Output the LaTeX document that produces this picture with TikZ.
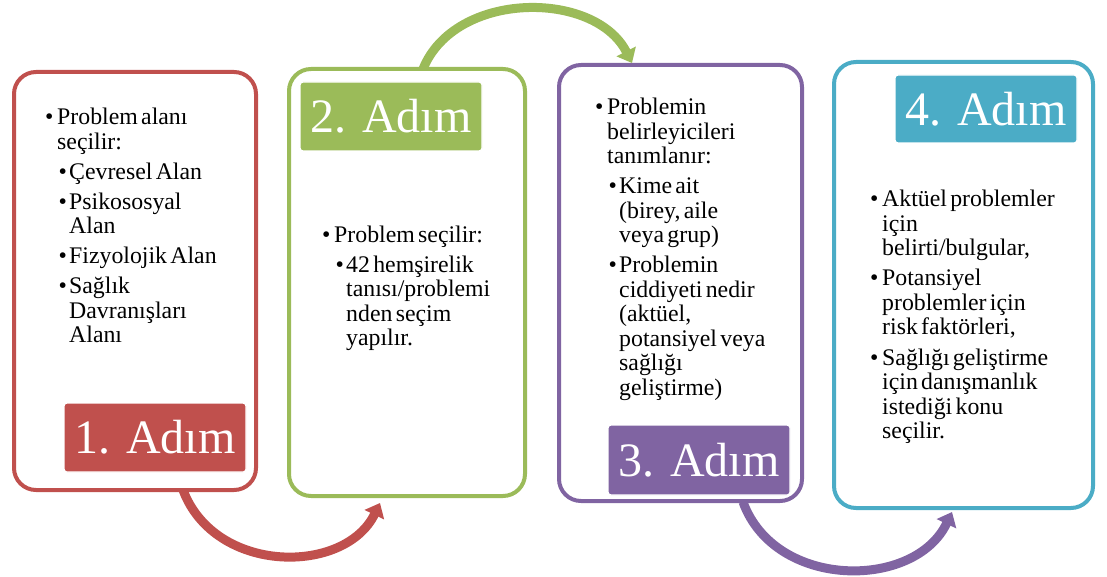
\documentclass[tikz,border=0pt]{standalone}
\usepackage{fontspec}
\setmainfont{Liberation Serif}
\usetikzlibrary{arrows.meta}
\definecolor{cred}{HTML}{C0504D}
\definecolor{cgreen}{HTML}{9BBB59}
\definecolor{cpurple}{HTML}{8064A2}
\definecolor{cblue}{HTML}{4BACC6}
\newcommand{\txtsetup}{\fontsize{23.8}{24.5}\selectfont\parskip=5.5pt\raggedright}
\newcommand{\ia}[1]{\leftskip=0pt\hangindent=12pt\hangafter=1\noindent\makebox[12pt][l]{•}#1\par}
\newcommand{\ib}[1]{\leftskip=13.5pt\hangindent=10.5pt\hangafter=1\noindent\makebox[10.5pt][l]{•}#1\par}
\tikzset{
  frame/.style={draw=#1, line width=4pt, fill=white, rounded corners=22pt, inner sep=0pt},
  stepname/.style={fill=#1, draw=white, line width=1.2pt, rounded corners=3pt, text=white, inner sep=0pt,
     minimum width=182pt, minimum height=69pt, font=\fontsize{48}{48}\selectfont},
  body/.style={anchor=base west, inner sep=0pt, text width=240pt},
  flow/.style={draw=#1, line width=9pt, -{Triangle[width=21pt,length=13pt]}}
}
\begin{document}
\begin{tikzpicture}[x=1pt,y=-1pt]
\useasboundingbox (0,0) rectangle (1107,577);
% frames
\node[frame=cred, minimum width=242pt, minimum height=418pt] (b1) at (135,281) {};
\node[frame=cgreen, minimum width=236pt, minimum height=427pt] (b2) at (407,282.5) {};
\node[frame=cpurple, minimum width=243pt, minimum height=436pt] (b3) at (680.5,283) {};
\node[frame=cblue, minimum width=259pt, minimum height=446pt] (b4) at (963.5,285) {};
% step labels
\node[stepname=cred] (l1) at (155,437.5) {1. Adım};
\node[stepname=cgreen] (l2) at (391,116.5) {2. Adım};
\node[stepname=cpurple, minimum height=70pt] (l3) at (699,460) {3. Adım};
\node[stepname=cblue, minimum height=68pt] (l4) at (986,109) {4. Adım};
% texts
\node[body] (t1) at (45,125) {\txtsetup
\ia{Problem alanı\newline seçilir:}
\ib{Çevresel Alan}
\ib{Psikososyal\newline Alan}
\ib{Fizyolojik Alan}
\ib{Sağlık\newline Davranışları\newline Alanı}};
\node[body] (t2) at (322,242) {\txtsetup
\ia{Problem seçilir:}
\ib{42 hemşirelik\newline tanısı/problemi\newline nden seçim\newline yapılır.}};
\node[body] (t3) at (595,115) {\txtsetup
\ia{Problemin\newline belirleyicileri\newline tanımlanır:}
\ib{Kime ait\newline (birey, aile\newline veya grup)}
\ib{Problemin\newline ciddiyeti nedir\newline (aktüel,\newline potansiyel veya\newline sağlığı\newline geliştirme)}};
\node[body] (t4) at (870,207) {\txtsetup
\ia{Aktüel problemler\newline için\newline belirti/bulgular,}
\ia{Potansiyel\newline problemler için\newline risk faktörleri,}
\ia{Sağlığı geliştirme\newline için danışmanlık\newline istediği konu\newline seçilir.}};
% connector end points
\coordinate (a1s) at (183,490);
\coordinate (a1e) at (380,503);
\coordinate (a2s) at (423,69);
\coordinate (a2e) at (632,63);
\coordinate (a3s) at (743,502);
\coordinate (a3e) at (952,512);
% connectors
\draw[flow=cred] (a1s) .. controls (215,575) and (345,575) .. (a1e);
\draw[flow=cgreen] (a2s) .. controls (455,-10) and (595,-10) .. (a2e);
\draw[flow=cpurple] (a3s) .. controls (775,590) and (915,590) .. (a3e);
\end{tikzpicture}
\end{document}
